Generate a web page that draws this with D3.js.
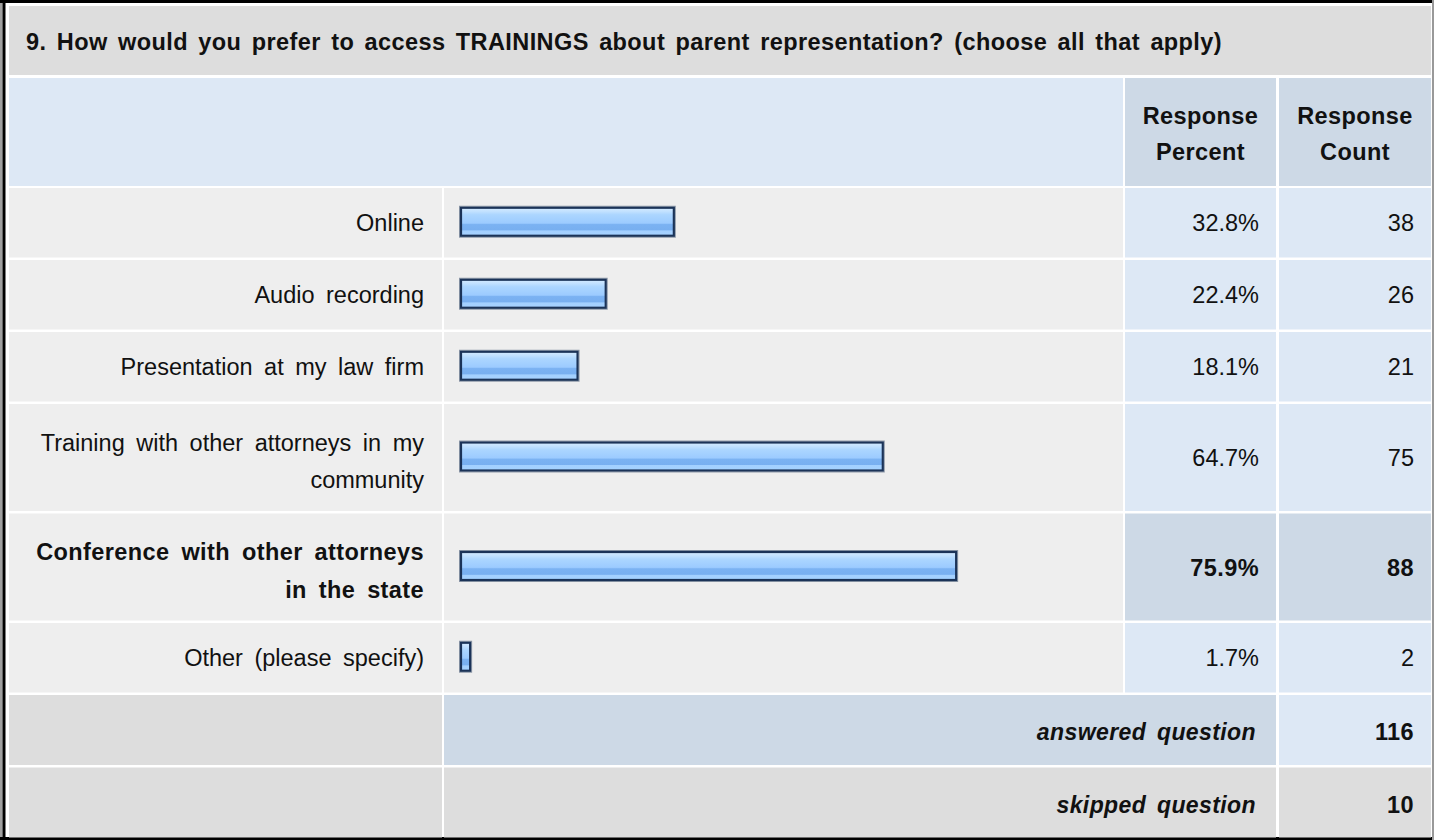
<!DOCTYPE html>
<html>
<head>
<meta charset="utf-8">
<script src="https://cdn.jsdelivr.net/npm/d3@7"></script>
<style>
  body { margin: 0; background: #fff; }
  svg { display: block; }
  text { font-family: "Liberation Sans", Arial, Helvetica, sans-serif; fill: #111; }
  .body-txt { font-size: 23.5px; word-spacing: 5px; }
  .bold-txt { font-size: 23.5px; font-weight: bold; word-spacing: 5px; letter-spacing: 0.4px; }
  .title-txt { font-size: 23.5px; font-weight: bold; word-spacing: 3.5px; letter-spacing: 0.4px; }
  .foot-txt { font-size: 23px; font-weight: bold; font-style: italic; word-spacing: 4px; letter-spacing: 0.4px; }
</style>
</head>
<body>
<div id="chart"></div>
<script>
// ---- data ----
const question = "9. How would you prefer to access TRAININGS about parent representation? (choose all that apply)";
const answerChoices = [
  "Online",
  "Audio recording",
  "Presentation at my law firm",
  "Training with other attorneys in my community",
  "Conference with other attorneys in the state",
  "Other (please specify)"
];
const responsePercent = [32.8, 22.4, 18.1, 64.7, 75.9, 1.7];
const responseCount = [38, 26, 21, 75, 88, 2];
const columnHeaders = [["Response", "Percent"], ["Response", "Count"]];
const summaryLabels = ["answered question", "skipped question"];
const summaryCounts = [116, 10];

// ---- layout ----
const W = 1434, H = 840;
const colLabel = [9, 442], colBar = [444, 1123], colPct = [1125, 1276], colCnt = [1279, 1431];
const gap = 2.5;
const firstRowTop = 188;
const lineH = 37.5;
const footH = 70;

const C = {
  title: '#dddddd', headBlue: '#dde8f5', headDark: '#cdd9e6',
  row: '#eeeeee', cell: '#dde8f5', cellHi: '#cdd9e6', foot: '#dddddd'
};

const svg = d3.select('#chart').append('svg')
  .attr('width', W).attr('height', H);

// bar gradient
const defs = svg.append('defs');
const grad = defs.append('linearGradient').attr('id', 'barFill')
  .attr('x1', 0).attr('x2', 0).attr('y1', 0).attr('y2', 1);
[[0, '#d3eaff'], [0.12, '#c4e2ff'], [0.25, '#acd6ff'], [0.55, '#9ccbff'],
 [0.6, '#7bb2f2'], [0.8, '#78aff0'], [0.82, '#a3d0ff'], [1, '#a6d2ff']]
  .forEach(([o, c]) => grad.append('stop').attr('offset', o).attr('stop-color', c));

// outer frame
svg.append('rect').attr('width', W).attr('height', H).attr('fill', '#fff');
svg.append('rect').attr('x', 0).attr('y', 0).attr('width', 2.5).attr('height', H).attr('fill', '#a0a0a0');
svg.append('rect').attr('x', 2.5).attr('y', 0).attr('width', 3).attr('height', H).attr('fill', '#000');
svg.append('rect').attr('x', 0).attr('y', 0).attr('width', W).attr('height', 3).attr('fill', '#000');
svg.append('rect').attr('x', 0).attr('y', H - 3).attr('width', W).attr('height', 3).attr('fill', '#000');
svg.append('rect').attr('x', W - 2).attr('y', 0).attr('width', 2).attr('height', H).attr('fill', '#999');

function cell(x0x1, y0, y1, fill) {
  svg.append('rect')
    .attr('x', x0x1[0]).attr('y', y0)
    .attr('width', x0x1[1] - x0x1[0]).attr('height', y1 - y0)
    .attr('fill', fill);
}

// title row
cell([colLabel[0], colCnt[1]], 6, 75, C.title);
svg.append('text').attr('class', 'title-txt')
  .attr('x', 26).attr('y', 50).text(question);

// header row
const headTop = 78, headBot = 186, headMid = (headTop + headBot) / 2;
cell([colLabel[0], colBar[1]], headTop, headBot, C.headBlue);
[colPct, colCnt].forEach((col, i) => {
  cell(col, headTop, headBot, C.headDark);
  const t = svg.append('text').attr('class', 'bold-txt')
    .attr('text-anchor', 'middle');
  columnHeaders[i].forEach((ln, j) => {
    t.append('tspan').attr('x', (col[0] + col[1]) / 2)
      .attr('y', headMid - 8 + j * 36).text(ln);
  });
});

// wrap labels to the label column width
const measure = svg.append('text').attr('class', 'body-txt');
const maxLabelW = 400;
const topIdx = d3.maxIndex(responseCount);
function wrap(str, bold) {
  measure.attr('class', bold ? 'bold-txt' : 'body-txt');
  const lines = []; let line = [];
  str.split(' ').forEach(w => {
    line.push(w);
    measure.text(line.join(' '));
    if (measure.node().getComputedTextLength() > maxLabelW && line.length > 1) {
      line.pop();
      lines.push(line.join(' '));
      line = [w];
    }
  });
  lines.push(line.join(' '));
  return lines;
}

const rows = answerChoices.map((label, i) => ({
  label, pct: responsePercent[i], count: responseCount[i],
  top: i === topIdx, lines: wrap(label, i === topIdx)
}));
measure.remove();

const heights = rows.map(d => 32 + lineH * d.lines.length);
const tops = [firstRowTop, ...d3.cumsum(heights, h => h + gap)].map((v, i) => i === 0 ? v : firstRowTop + v);
rows.forEach((d, i) => { d.y0 = tops[i]; d.y1 = tops[i] + heights[i]; d.mid = (d.y0 + d.y1) / 2; });

const x = d3.scaleLinear().domain([0, 100]).range([460, 1115]);

const g = svg.selectAll('.row').data(rows).enter().append('g').attr('class', 'row');

g.append('rect').attr('x', colLabel[0]).attr('y', d => d.y0)
  .attr('width', colLabel[1] - colLabel[0]).attr('height', d => d.y1 - d.y0).attr('fill', C.row);
g.append('rect').attr('x', colBar[0]).attr('y', d => d.y0)
  .attr('width', colBar[1] - colBar[0]).attr('height', d => d.y1 - d.y0).attr('fill', C.row);
g.append('rect').attr('x', colPct[0]).attr('y', d => d.y0)
  .attr('width', colPct[1] - colPct[0]).attr('height', d => d.y1 - d.y0)
  .attr('fill', d => d.top ? C.cellHi : C.cell);
g.append('rect').attr('x', colCnt[0]).attr('y', d => d.y0)
  .attr('width', colCnt[1] - colCnt[0]).attr('height', d => d.y1 - d.y0)
  .attr('fill', d => d.top ? C.cellHi : C.cell);

// labels
g.append('text')
  .attr('class', d => d.top ? 'bold-txt' : 'body-txt')
  .attr('text-anchor', 'end')
  .each(function (d) {
    const n = d.lines.length;
    const base = n === 1 ? d.mid + 8.5 : d.mid - 7;
    d3.select(this).selectAll('tspan').data(d.lines).enter().append('tspan')
      .attr('x', colLabel[1] - 18)
      .attr('y', (ln, j) => base + j * lineH)
      .text(ln => ln);
  });

// bars
g.append('rect')
  .attr('x', x(0) - 0.5).attr('y', d => d.mid - 16.5)
  .attr('width', d => x(d.pct) - x(0) + 1).attr('height', 31)
  .attr('fill', 'none').attr('stroke', '#8d98a8').attr('stroke-width', 1);
g.append('rect')
  .attr('x', x(0) + 1).attr('y', d => d.mid - 15)
  .attr('width', d => x(d.pct) - x(0) - 2).attr('height', 28)
  .attr('fill', 'url(#barFill)').attr('stroke', '#1b3358').attr('stroke-width', 2.2);

// values
g.append('text')
  .attr('class', d => d.top ? 'bold-txt' : 'body-txt')
  .attr('text-anchor', 'end')
  .attr('x', colPct[1] - 17).attr('y', d => d.mid + 8.5)
  .text(d => d.pct.toFixed(1) + '%');
g.append('text')
  .attr('class', d => d.top ? 'bold-txt' : 'body-txt')
  .attr('text-anchor', 'end')
  .attr('x', colCnt[1] - 17).attr('y', d => d.mid + 8.5)
  .text(d => d.count);

// summary rows
const last = rows[rows.length - 1];
const footTops = [last.y1 + gap, last.y1 + gap + footH + gap];
summaryLabels.forEach((lbl, i) => {
  const y0 = footTops[i], y1 = y0 + footH, mid = (y0 + y1) / 2;
  cell(colLabel, y0, y1, C.foot);
  cell([colBar[0], colPct[1]], y0, y1, i === 0 ? C.headDark : C.foot);
  cell(colCnt, y0, y1, i === 0 ? C.cell : C.foot);
  svg.append('text').attr('class', 'foot-txt').attr('text-anchor', 'end')
    .attr('x', colPct[1] - 20).attr('y', mid + 10).text(lbl);
  svg.append('text').attr('class', 'bold-txt').attr('text-anchor', 'end')
    .attr('x', colCnt[1] - 17).attr('y', mid + 10).text(summaryCounts[i]);
});
</script>
</body>
</html>
